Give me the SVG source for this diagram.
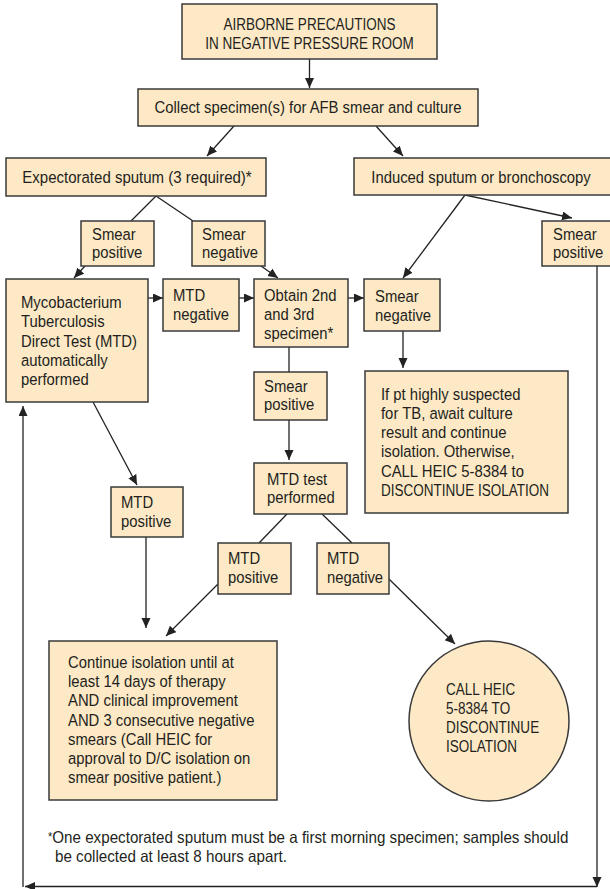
<svg xmlns="http://www.w3.org/2000/svg" width="610" height="889" viewBox="0 0 610 889">
<defs>
<style>
.box{fill:#fde9c6;stroke:#3a3a3a;stroke-width:1.5}
.t{font-family:"Liberation Sans",Arial,sans-serif;font-size:16.5px;fill:#231f20}
.m{text-anchor:middle}
.ln{fill:none;stroke:#222;stroke-width:1.3}
.ar{fill:none;stroke:#222;stroke-width:1.3;marker-end:url(#ah)}
</style>
<marker id="ah" markerUnits="userSpaceOnUse" markerWidth="11" markerHeight="10" refX="10" refY="4.5" orient="auto">
<path d="M0,0 L10,4.5 L0,9 Z" fill="#222"/>
</marker>
</defs>
<rect width="610" height="889" fill="#fff"/>

<g id="connectors">
<line class="ar" x1="309.5" y1="59" x2="309.5" y2="88"/>
<line class="ar" x1="234" y1="126" x2="207" y2="156"/>
<line class="ar" x1="376" y1="126" x2="403" y2="156"/>
<line class="ln" x1="156" y1="196" x2="131" y2="221"/>
<line class="ln" x1="156" y1="196" x2="193" y2="221"/>
<line class="ar" x1="85" y1="266" x2="74" y2="278"/>
<line class="ar" x1="261" y1="266" x2="278" y2="278"/>
<line class="ar" x1="148" y1="298" x2="163" y2="298"/>
<line class="ar" x1="239" y1="298" x2="254" y2="298"/>
<line class="ar" x1="348" y1="298" x2="364" y2="298"/>
<line class="ar" x1="465" y1="195" x2="403" y2="278"/>
<line class="ar" x1="465" y1="195" x2="572" y2="218"/>
<line class="ar" x1="403" y1="331" x2="403" y2="368"/>
<line class="ln" x1="289" y1="347" x2="289" y2="372"/>
<line class="ar" x1="289" y1="420" x2="289" y2="460"/>
<line class="ln" x1="287" y1="514" x2="259" y2="543"/>
<line class="ln" x1="322" y1="514" x2="352" y2="543"/>
<line class="ar" x1="93" y1="402" x2="137" y2="485"/>
<line class="ar" x1="146" y1="537" x2="146" y2="628"/>
<line class="ar" x1="218" y1="584" x2="166" y2="636"/>
<line class="ar" x1="389" y1="579" x2="455" y2="644"/>
<line class="ar" x1="597" y1="266" x2="597" y2="887"/>
<line class="ar" x1="597" y1="886.5" x2="25" y2="886.5"/>
<line class="ar" x1="23" y1="887" x2="23" y2="406"/>
</g>

<g id="n-airborne">
<rect class="box" x="182" y="4" width="255" height="55"/>
<g transform="translate(309.5 0) scale(0.82 1)">
<text class="t m" x="0" y="30">AIRBORNE PRECAUTIONS</text>
<text class="t m" x="0" y="49">IN NEGATIVE PRESSURE ROOM</text>
</g>
</g>

<g id="n-collect">
<rect class="box" x="138" y="89" width="340" height="37"/>
<g transform="translate(308 0) scale(0.9 1)">
<text class="t m" x="0" y="113">Collect specimen(s) for AFB smear and culture</text>
</g>
</g>

<g id="n-expectorated">
<rect class="box" x="6" y="158" width="260" height="38"/>
<g transform="translate(137 0) scale(0.91 1)">
<text class="t m" x="0" y="183">Expectorated sputum (3 required)*</text>
</g>
</g>

<g id="n-induced">
<rect class="box" x="354" y="158" width="260" height="37"/>
<g transform="translate(481 0) scale(0.9 1)">
<text class="t m" x="0" y="183">Induced sputum or bronchoscopy</text>
</g>
</g>

<g id="n-smearpos-left">
<rect class="box" x="81" y="221" width="73" height="45"/>
<g transform="translate(92 0) scale(0.9 1)">
<text class="t" x="0" y="240">Smear</text>
<text class="t" x="0" y="258">positive</text>
</g>
</g>

<g id="n-smearneg-left">
<rect class="box" x="192" y="221" width="73" height="45"/>
<g transform="translate(202 0) scale(0.9 1)">
<text class="t" x="0" y="240">Smear</text>
<text class="t" x="0" y="258">negative</text>
</g>
</g>

<g id="n-smearpos-right">
<rect class="box" x="542" y="221" width="72" height="45"/>
<g transform="translate(553 0) scale(0.9 1)">
<text class="t" x="0" y="240">Smear</text>
<text class="t" x="0" y="258">positive</text>
</g>
</g>

<g id="n-myco">
<rect class="box" x="6" y="279" width="142" height="123"/>
<g transform="translate(21 0) scale(0.9 1)">
<text class="t" x="0" y="308">Mycobacterium</text>
<text class="t" x="0" y="327">Tuberculosis</text>
<text class="t" x="0" y="347">Direct Test (MTD)</text>
<text class="t" x="0" y="366">automatically</text>
<text class="t" x="0" y="385">performed</text>
</g>
</g>

<g id="n-mtdneg-top">
<rect class="box" x="163" y="279" width="76" height="52"/>
<g transform="translate(173 0) scale(0.9 1)">
<text class="t" x="0" y="301">MTD</text>
<text class="t" x="0" y="320">negative</text>
</g>
</g>

<g id="n-obtain">
<rect class="box" x="254" y="279" width="94" height="68"/>
<g transform="translate(264 0) scale(0.9 1)">
<text class="t" x="0" y="301">Obtain 2nd</text>
<text class="t" x="0" y="320">and 3rd</text>
<text class="t" x="0" y="339">specimen*</text>
</g>
</g>

<g id="n-smearneg-right">
<rect class="box" x="364" y="279" width="76" height="52"/>
<g transform="translate(375 0) scale(0.9 1)">
<text class="t" x="0" y="302">Smear</text>
<text class="t" x="0" y="321">negative</text>
</g>
</g>

<g id="n-smearpos-mid">
<rect class="box" x="254" y="372" width="73" height="48"/>
<g transform="translate(264 0) scale(0.9 1)">
<text class="t" x="0" y="392">Smear</text>
<text class="t" x="0" y="410">positive</text>
</g>
</g>

<g id="n-ifpt">
<rect class="box" x="365" y="371" width="203" height="142"/>
<g transform="translate(381 0) scale(0.9 1)">
<text class="t" x="0" y="400">If pt highly suspected</text>
<text class="t" x="0" y="419">for TB, await culture</text>
<text class="t" x="0" y="438">result and continue</text>
<text class="t" x="0" y="457">isolation. Otherwise,</text>
<text class="t" x="0" y="477">CALL HEIC 5-8384 to</text>
</g>
<g transform="translate(381 0) scale(0.82 1)">
<text class="t" x="0" y="496">DISCONTINUE ISOLATION</text>
</g>
</g>

<g id="n-mtdpos-left">
<rect class="box" x="111" y="487" width="72" height="50"/>
<g transform="translate(121 0) scale(0.9 1)">
<text class="t" x="0" y="508">MTD</text>
<text class="t" x="0" y="527">positive</text>
</g>
</g>

<g id="n-mtdtest">
<rect class="box" x="254" y="463" width="93" height="51"/>
<g transform="translate(267 0) scale(0.9 1)">
<text class="t" x="0" y="485">MTD test</text>
<text class="t" x="0" y="503">performed</text>
</g>
</g>

<g id="n-mtdpos-low">
<rect class="box" x="218" y="543" width="73" height="51"/>
<g transform="translate(228 0) scale(0.9 1)">
<text class="t" x="0" y="564">MTD</text>
<text class="t" x="0" y="583">positive</text>
</g>
</g>

<g id="n-mtdneg-low">
<rect class="box" x="317" y="543" width="72" height="51"/>
<g transform="translate(327 0) scale(0.9 1)">
<text class="t" x="0" y="564">MTD</text>
<text class="t" x="0" y="583">negative</text>
</g>
</g>

<g id="n-continue">
<rect class="box" x="49" y="641" width="228" height="159"/>
<g transform="translate(68 0) scale(0.9 1)">
<text class="t" x="0" y="668">Continue isolation until at</text>
<text class="t" x="0" y="687">least 14 days of therapy</text>
<text class="t" x="0" y="706">AND clinical improvement</text>
<text class="t" x="0" y="726">AND 3 consecutive negative</text>
<text class="t" x="0" y="745">smears (Call HEIC for</text>
<text class="t" x="0" y="764">approval to D/C isolation on</text>
<text class="t" x="0" y="783">smear positive patient.)</text>
</g>
</g>

<g id="n-callheic">
<circle class="box" cx="489" cy="721" r="80"/>
<g transform="translate(446 0) scale(0.82 1)">
<text class="t" x="0" y="695">CALL HEIC</text>
<text class="t" x="0" y="714">5-8384 TO</text>
<text class="t" x="0" y="733">DISCONTINUE</text>
<text class="t" x="0" y="752">ISOLATION</text>
</g>
</g>

<g id="footnote">
<g transform="translate(48 0) scale(0.92 1)">
<text class="t" x="0" y="843"><tspan font-size="12" dy="-2">*</tspan><tspan dy="2">One expectorated sputum must be a first morning specimen; samples should</tspan></text>
<text class="t" x="7.6" y="862">be collected at least 8 hours apart.</text>
</g>
</g>
</svg>
